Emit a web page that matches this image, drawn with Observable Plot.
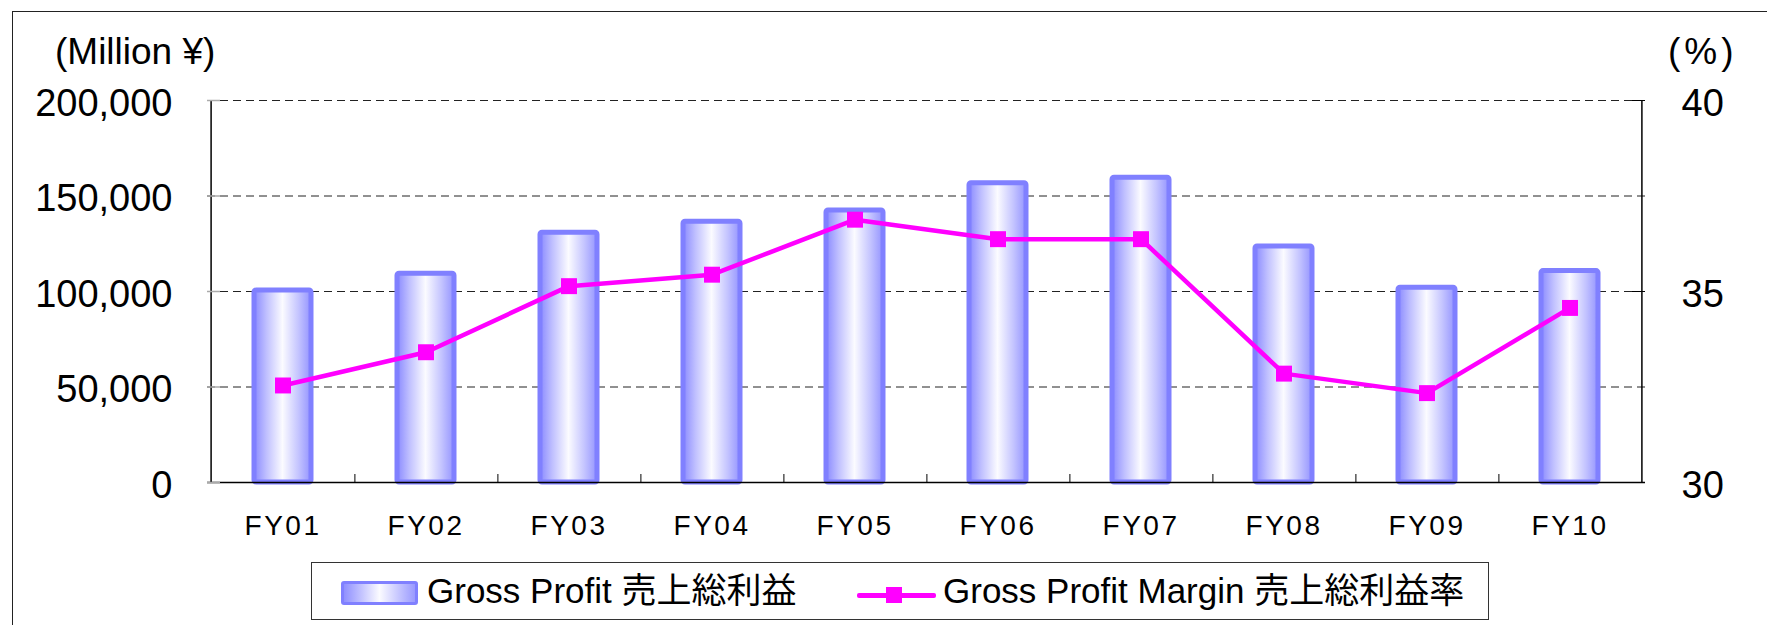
<!DOCTYPE html>
<html>
<head>
<meta charset="utf-8">
<script src="https://cdn.jsdelivr.net/npm/d3@7"></script>
<script src="https://cdn.jsdelivr.net/npm/@observablehq/plot@0.6"></script>
<style>
  html, body { margin: 0; padding: 0; background: #fff; }
  body { width: 1767px; height: 625px; position: relative; overflow: hidden;
         font-family: "Liberation Sans", Arial, "Noto Sans CJK JP", sans-serif; }
  #frame { position: absolute; left: 12px; top: 11px; width: 2000px; height: 2000px;
           border: 1.5px solid #222; box-sizing: border-box; }
  #chart { position: absolute; left: 0; top: 0; }
  #chart svg { overflow: visible; }
  g[aria-label="x-axis tick label"] text { letter-spacing: 2.5px; }
  #legend { position: absolute; left: 311px; top: 562px; width: 1178px; height: 58px;
            border: 1.5px solid #333; box-sizing: border-box; background: #fff;
            font-family: "Liberation Sans", Arial, "Noto Sans CJK JP", sans-serif; font-size: 35px; color: #000; }
  .lg-text { position: absolute; white-space: nowrap; top: 50%; transform: translateY(-52%); line-height: 1; }
  #swBar { position: absolute; left: 29px; top: 18px; width: 77px; height: 24px; box-sizing: border-box;
           border: 3px solid #8080ff; border-radius: 3px;
           background: linear-gradient(to right, #9090ff 0%, #c4c4ff 25%, #fbfbff 50%, #c4c4ff 78%, #9a9aff 100%); }
  #swLine { position: absolute; left: 545px; top: 30px; width: 79px; height: 5px; background: #ff00ff; border-radius: 2px; }
  #swMark { position: absolute; left: 574px; top: 24px; width: 16px; height: 16px; background: #ff00ff; }
</style>
</head>
<body>
<div id="frame"></div>
<div id="chart"></div>
<div id="legend">
  <div id="swBar"></div>
  <span class="lg-text" style="left:115px">Gross Profit 売上総利益</span>
  <div id="swLine"></div>
  <div id="swMark"></div>
  <span class="lg-text" style="left:631px">Gross Profit Margin 売上総利益率</span>
</div>
<script>
const categories = ["FY01", "FY02", "FY03", "FY04", "FY05", "FY06", "FY07", "FY08", "FY09", "FY10"];
const grossProfit = [100500, 109300, 130800, 136500, 142400, 156700, 159600, 123600, 102000, 110700];
const grossMargin = [32.54, 33.41, 35.14, 35.44, 36.88, 36.37, 36.37, 32.85, 32.34, 34.57];
const leftTicks = [0, 50000, 100000, 150000, 200000];
const gridTicks = [50000, 100000, 150000, 200000];
const rightTicks = [30, 35, 40];
const leftTitle = "(Million ¥)";
const rightTitle = "(%)";

const W = 1767, H = 550, ML = 207, MR = 122, MT = 100, MB = 68;
const FW = W - ML - MR;
const step = FW / categories.length;

// map margin % (30..40) onto the left axis domain (0..200,000)
const toLeft = m => (m - 30) / 10 * 200000;
const fromLeft = v => 30 + v / 200000 * 10;

const data = categories.map((c, i) => ({year: c, gp: grossProfit[i], gm: grossMargin[i], gmL: toLeft(grossMargin[i])}));

const chart = Plot.plot({
  width: W, height: H,
  marginLeft: ML, marginRight: MR, marginTop: MT, marginBottom: MB,
  style: {fontFamily: '"Liberation Sans", Arial, sans-serif', background: "transparent", color: "#000"},
  x: {type: "band", domain: categories, paddingInner: 0.6, paddingOuter: 0.3, axis: null},
  y: {domain: [0, 200000], axis: null},
  marks: [
    Plot.ruleY(gridTicks, {stroke: "#222", strokeWidth: 1, strokeDasharray: "8,5"}),
    Plot.barY(data, {x: "year", y: "gp", fill: "url(#gpGrad)", stroke: "#8080ff", strokeWidth: 5, rx: 2}),
    // axis lines: left, right, bottom
    Plot.ruleX([categories[0]], {y1: 0, y2: 200000, dx: -step / 2, stroke: "#000", strokeWidth: 1.5}),
    Plot.ruleX([categories[categories.length - 1]], {y1: 0, y2: 200000, dx: step / 2, stroke: "#000", strokeWidth: 1.5}),
    Plot.ruleY([0], {stroke: "#000", strokeWidth: 1.5}),
    // inward tick marks
    Plot.ruleY(leftTicks, {insetRight: FW - 13, stroke: "#aaa", strokeWidth: 1.5}),
    Plot.ruleY(rightTicks.map(toLeft), {insetLeft: FW - 13, stroke: "#000", strokeWidth: 1}),
    Plot.ruleX(categories.slice(0, -1), {y1: 0, y2: 8 * 200000 / (H - MT - MB), dx: step / 2, stroke: "#000", strokeWidth: 1}),
    // tick labels
    Plot.axisY({anchor: "left", ticks: leftTicks, tickFormat: d3.format(","), tickSize: 0, tickPadding: 35,
                fontSize: 38, dy: 3, label: null}),
    Plot.axisY({anchor: "right", ticks: rightTicks.map(toLeft), tickFormat: d => String(fromLeft(d)),
                tickSize: 0, tickPadding: 36, fontSize: 38, textAnchor: "start", dy: 3, label: null}),
    Plot.axisX({anchor: "bottom", tickSize: 0, tickPadding: 33, fontSize: 28, label: null}),
    Plot.line(data, {x: "year", y: "gmL", stroke: "#ff00ff", strokeWidth: 4.5}),
    Plot.dot(data, {x: "year", y: "gmL", symbol: "square", r: 9, fill: "#ff00ff", stroke: "none"})
  ]
});

document.getElementById("chart").appendChild(chart);

const svg = d3.select(chart);
const defs = svg.insert("defs", ":first-child");
const grad = defs.append("linearGradient").attr("id", "gpGrad").attr("x1", "0%").attr("x2", "100%").attr("y1", "0%").attr("y2", "0%");
[["0%", "#8a8aff"], ["22%", "#c0c0ff"], ["50%", "#fbfbff"], ["78%", "#c4c4ff"], ["100%", "#9494ff"]]
  .forEach(([o, c]) => grad.append("stop").attr("offset", o).attr("stop-color", c));

svg.append("text").attr("x", 55).attr("y", 64).attr("font-size", 37).attr("fill", "#000")
  .attr("text-anchor", "start")
  .attr("font-family", '"Liberation Sans", Arial, sans-serif').text(leftTitle);
svg.append("text").attr("x", 1668).attr("y", 64).attr("font-size", 37).attr("fill", "#000")
  .attr("text-anchor", "start").attr("letter-spacing", 4)
  .attr("font-family", '"Liberation Sans", Arial, sans-serif').text(rightTitle);
</script>
</body>
</html>
